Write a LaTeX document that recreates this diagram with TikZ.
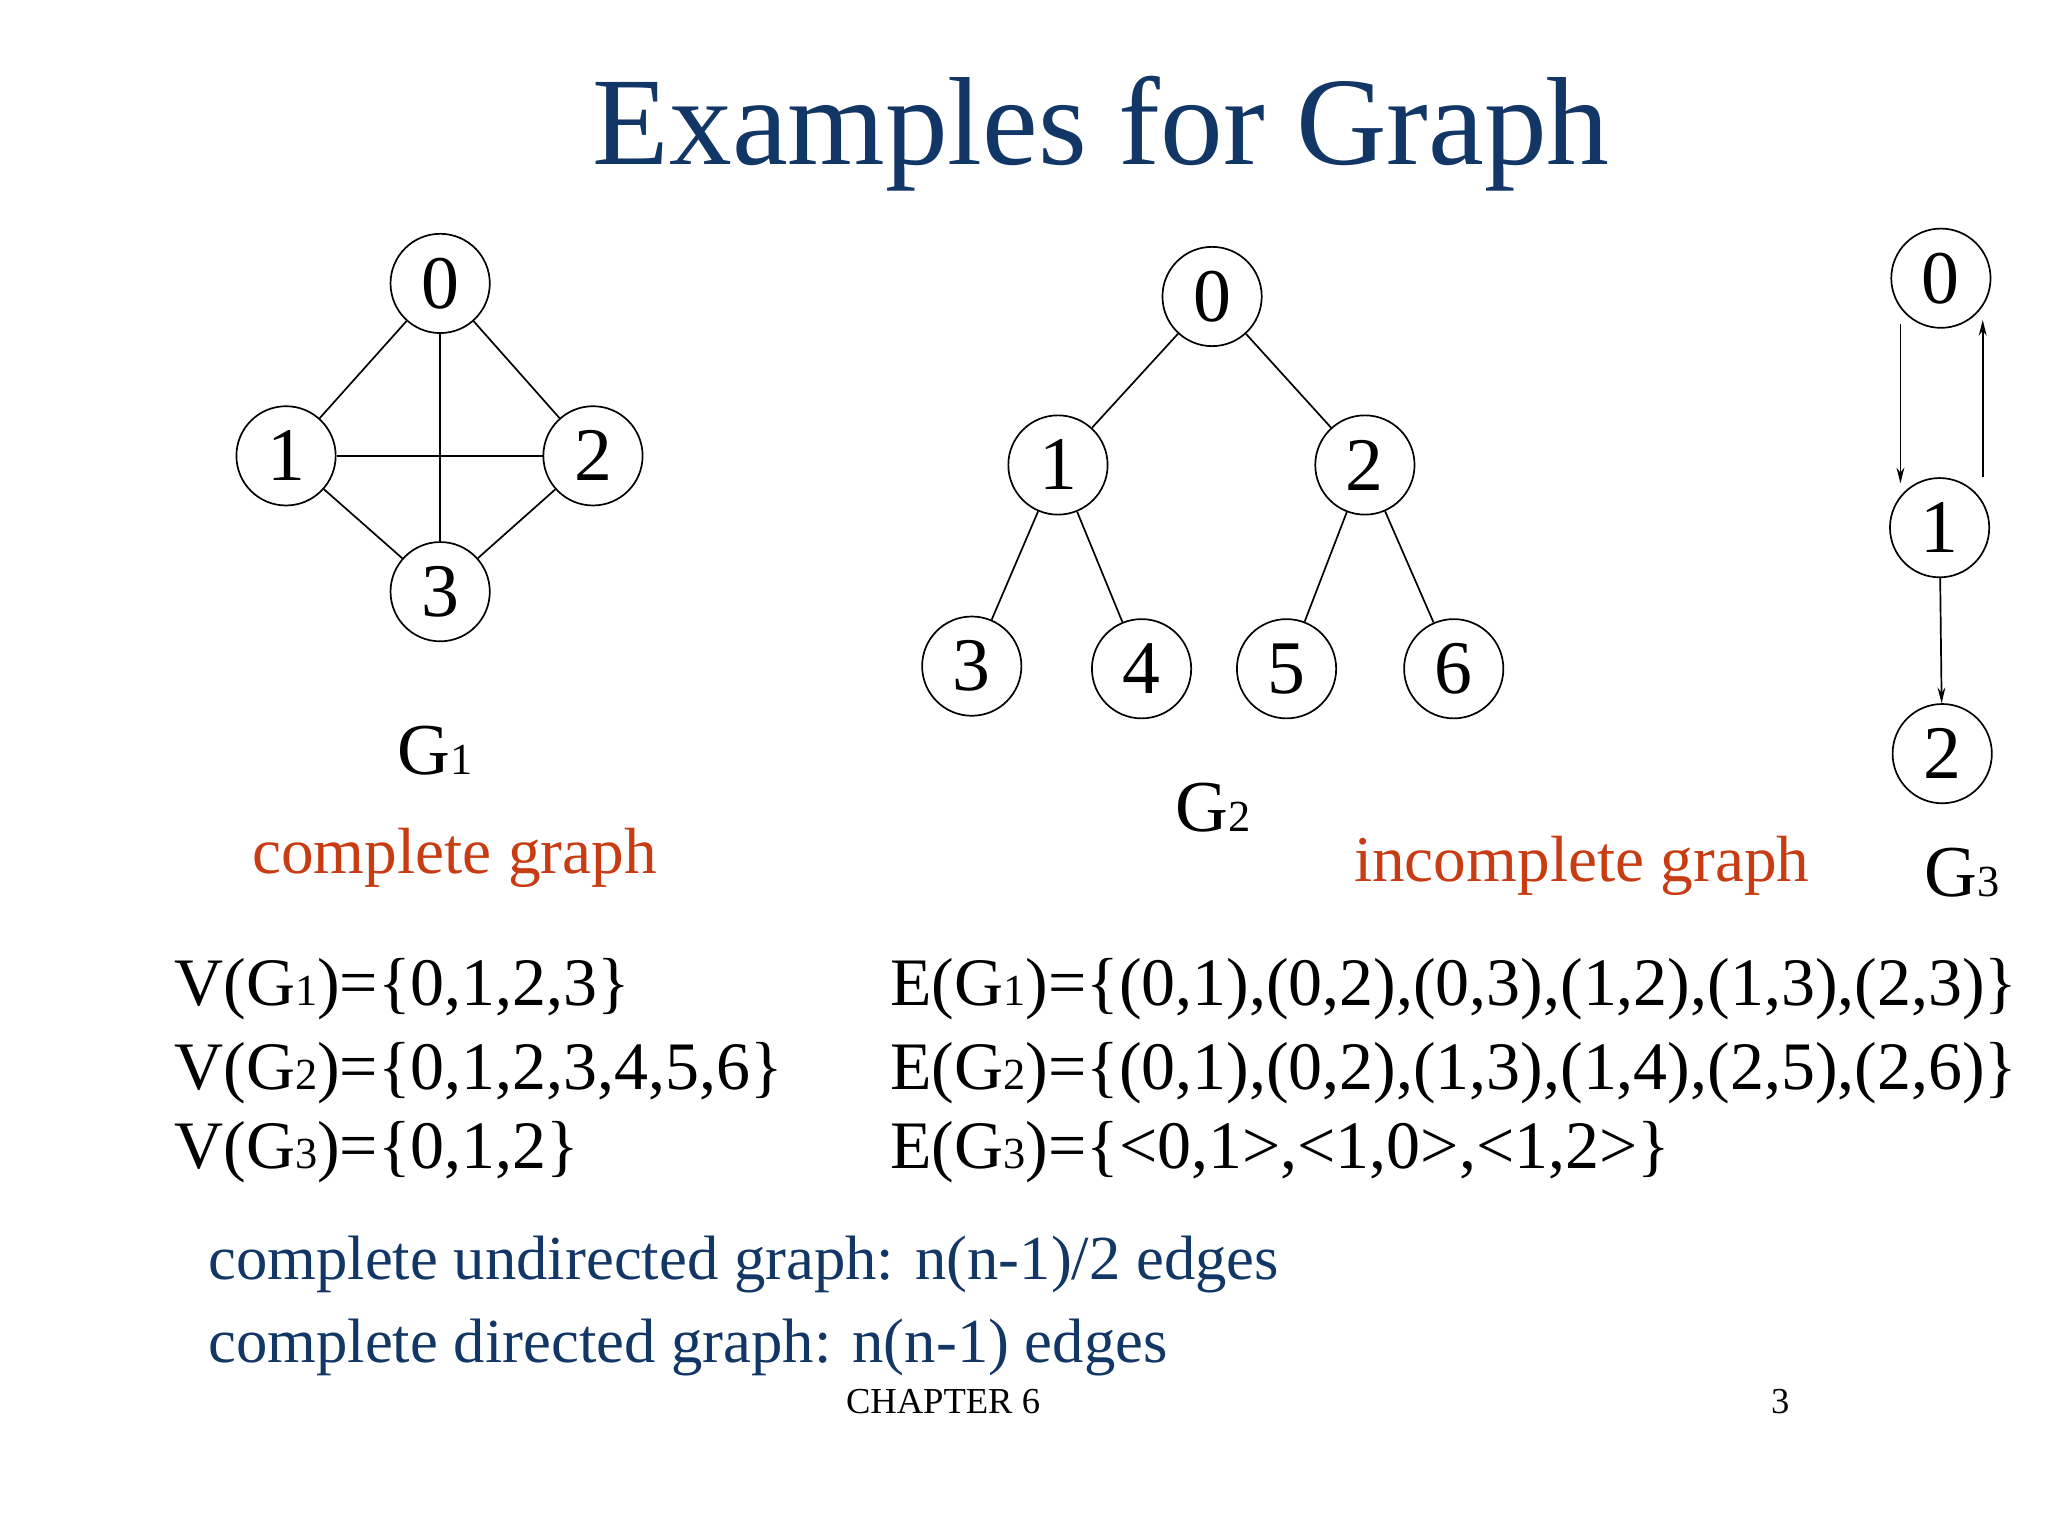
\documentclass[tikz,border=0pt]{standalone}
\usepackage{fontspec}
\setmainfont{Liberation Serif}
\usetikzlibrary{arrows.meta}
\definecolor{titleblue}{RGB}{18,54,102}
\definecolor{redtxt}{RGB}{200,60,20}
\newcommand{\fs}[1]{\fontsize{#1}{#1}\selectfont}
\newcommand{\sub}[1]{{\fs{34}#1}}
\begin{document}
\begin{tikzpicture}[x=1pt,y=-1pt,
  vert/.style={circle,draw,line width=1.3pt,minimum size=76pt,inner sep=0pt,font=\fs{58}},
  edge/.style={line width=1.3pt},
  arr/.style={line width=1.3pt,-{Stealth[length=12pt,width=6pt]}},
  lab/.style={font=\fs{56}},
  set/.style={anchor=west,font=\fs{52}}]
\useasboundingbox (0,0) rectangle (1568,1176);
\node[font=\fs{96},text=titleblue] (title) at (843,102) {Examples for Graph};
% G1
\node[vert] (a0) at (337,217) {0};
\node[vert] (a1) at (219,349) {1};
\node[vert] (a2) at (454,349) {2};
\node[vert] (a3) at (337,453) {3};
\foreach \u/\v in {a0/a1,a0/a2,a0/a3,a1/a2,a1/a3,a2/a3} \draw[edge] (\u)--(\v);
% G2
\node[vert] (b0) at (928,227) {0};
\node[vert] (b1) at (810,356) {1};
\node[vert] (b2) at (1045,356) {2};
\node[vert] (b3) at (744,510) {3};
\node[vert] (b4) at (874,512) {4};
\node[vert] (b5) at (985,512) {5};
\node[vert] (b6) at (1113,512) {6};
\foreach \u/\v in {b0/b1,b0/b2,b1/b3,b1/b4,b2/b5,b2/b6} \draw[edge] (\u)--(\v);
% G3
\node[vert] (c0) at (1486,213) {0};
\node[vert] (c1) at (1485,404) {1};
\node[vert] (c2) at (1487,577) {2};
\coordinate (l0) at (1455,248); \coordinate (l1) at (1455,370);
\coordinate (r1) at (1518,365); \coordinate (r0) at (1518,245);
\draw[arr] (l0)--(l1);
\draw[arr] (r1)--(r0);
\draw[arr] (c1)--(c2);
% labels
\node[lab] (g1) at (333,575) {G\sub{1}};
\node[lab] (g2) at (929,618) {G\sub{2}};
\node[lab] (g3) at (1502,668) {G\sub{3}};
\node[font=\fs{50},text=redtxt] (cg) at (348,657) {complete graph};
\node[font=\fs{50},text=redtxt] (ig) at (1211,663) {incomplete graph};
% sets
\node[set] (v1) at (130,757) {V(G\sub{1})=\{0,1,2,3\}};
\node[set] (v2) at (130,822) {V(G\sub{2})=\{0,1,2,3,4,5,6\}};
\node[set] (v3) at (130,882) {V(G\sub{3})=\{0,1,2\}};
\node[set] (e1) at (678,757) {E(G\sub{1})=\{(0,1),(0,2),(0,3),(1,2),(1,3),(2,3)\}};
\node[set] (e2) at (678,822) {E(G\sub{2})=\{(0,1),(0,2),(1,3),(1,4),(2,5),(2,6)\}};
\node[set] (e3) at (678,882) {E(G\sub{3})=\{<0,1>,<1,0>,<1,2>\}};
\node[set,text=titleblue,font=\fs{48}] (t1) at (156,968) {complete undirected graph: n(n-1)/2 edges};
\node[set,text=titleblue,font=\fs{48}] (t2) at (156,1032) {complete directed graph: n(n-1) edges};
\node[font=\fs{28}] (ch) at (722,1073) {CHAPTER 6};
\node[font=\fs{28}] (pg) at (1363,1073) {3};
\end{tikzpicture}
\end{document}
